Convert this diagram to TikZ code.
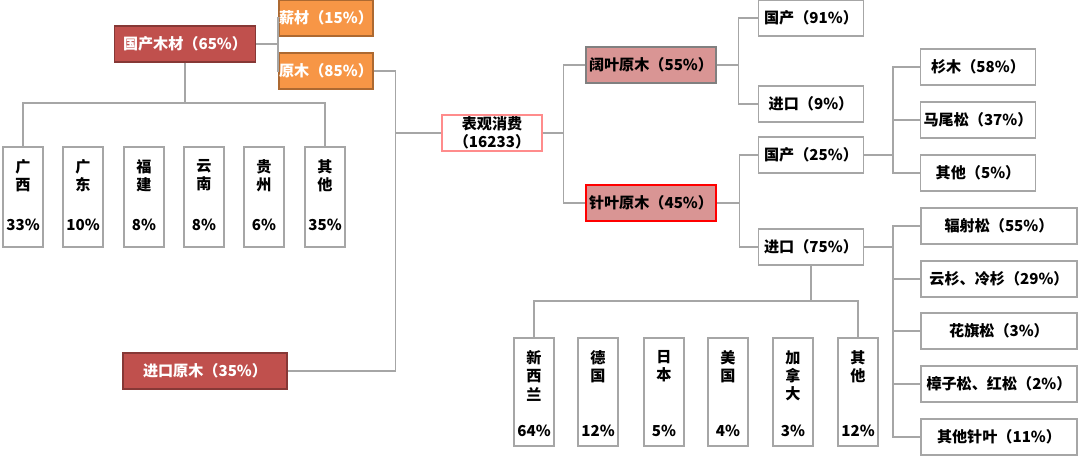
\documentclass[tikz,border=0pt]{standalone}
\usepackage{fontspec}
\setmainfont{Noto Sans CJK SC}
\usetikzlibrary{positioning}
\definecolor{darkred}{HTML}{C0504D}
\definecolor{orangebox}{HTML}{F79646}
\definecolor{pinkbox}{HTML}{D99594}
\definecolor{linegray}{HTML}{A6A6A6}
\tikzset{
  base/.style={draw=linegray, line width=0.8pt, inner sep=0pt, font=\fontsize{8.6}{10.5}\selectfont\bfseries},
  hbox/.style={base, minimum height=0.72cm},
  redbox/.style={hbox, fill=darkred, draw=darkred!70!black, text=white},
  orbox/.style={hbox, fill=orangebox, draw=orangebox!70!black, text=white},
  vbox/.style={base, minimum width=0.8cm, minimum height=2cm},
  link/.style={draw=linegray, line width=0.8pt}
}
\begin{document}
\begin{tikzpicture}[x=0.02cm, y=-0.02cm]
\useasboundingbox (0,0) rectangle (1080,456);

% domestic timber side
\node [redbox, minimum width=2.82cm] (gc) at (185,44) {国产木材（65\%）};
\node [orbox, minimum width=1.88cm] (xc) at (326,18) {薪材（15\%）};
\node [orbox, minimum width=1.88cm] (ym) at (326,71) {原木（85\%）};
\node [redbox, minimum width=3.28cm] (jk) at (205,371) {进口原木（35\%）};
\node [base, draw=red!45, minimum width=2cm, minimum height=0.72cm, align=center] (bg) at (492,133) {表观消费\\（16233）};

\foreach \x/\n/\t/\p in {23/gx/{广\\西}/33, 83/gd/{广\\东}/10, 144/fj/{福\\建}/8,
    204/yn/{云\\南}/8, 264/gz/{贵\\州}/6, 325/qt/{其\\他}/35} {
  \node [vbox] (\n) at (\x,197) {};
  \node [base, draw=none, align=center, below=7pt of \n.north] (\n-t) {\t};
  \node [base, draw=none, above=9pt of \n.south] (\n-p) {\p\%};
}
\path (gc.south |- 0,103) coordinate (pbus);
\draw [link] (gc.south) -- (pbus);
\draw [link] (gx.north) |- (pbus) -| (qt.north);

\draw [link] (gc.east) -- ++(22,0) |- (xc.west);
\draw [link] (gc.east) ++(22,0) |- (ym.west);
\draw [link] (ym.east) -- ++(22,0) |- (jk.east);
\draw [link] (ym.east) ++(22,0) |- (bg.west);

% log types
\node [hbox, fill=pinkbox, draw=gray, minimum width=2.6cm] (ky) at (651,65) {阔叶原木（55\%）};
\node [hbox, fill=pinkbox, draw=red, line width=1.6pt, minimum width=2.6cm] (zy) at (651,203) {针叶原木（45\%）};
\draw [link] (bg.east) -- ++(21,0) |- (ky.west);
\draw [link] (bg.east) ++(21,0) |- (zy.west);

\node [hbox, minimum width=2.1cm] (kg) at (811,18) {国产（91\%）};
\node [hbox, minimum width=2.1cm] (kj) at (811,104) {进口（9\%）};
\node [hbox, minimum width=2.1cm] (zg) at (811,155) {国产（25\%）};
\node [hbox, minimum width=2.1cm] (zj) at (811,247) {进口（75\%）};
\draw [link] (ky.east) -- ++(22,0) |- (kg.west);
\draw [link] (ky.east) ++(22,0) |- (kj.west);
\draw [link] (zy.east) -- ++(22,0) |- (zg.west);
\draw [link] (zy.east) ++(22,0) |- (zj.west);

% domestic softwood species
\foreach \y/\n/\t in {67/sm/杉木（58\%）, 120/mw/马尾松（37\%）, 173/qo/其他（5\%）} {
  \node [hbox, minimum width=2.3cm] (\n) at (978,\y) {\t};
  \draw [link] (zg.east) -- ++(29,0) |- (\n.west);
}
% imported softwood species
\foreach \y/\n/\t in {226/fs/辐射松（55\%）, 279/ys/云杉、冷杉（29\%）, 331/hq/花旗松（3\%）,
    384/zz/樟子松、红松（2\%）, 437/qz/其他针叶（11\%）} {
  \node [hbox, minimum width=3.12cm] (\n) at (999,\y) {\t};
  \draw [link] (zj.east) -- ++(29,0) |- (\n.west);
}

% import origins
\foreach \x/\n/\t/\p in {534/xx/{新\\西\\兰}/64, 598/dg/{德\\国}/12, 664/rb/{日\\本}/5,
    728/mg/{美\\国}/4, 793/jn/{加\\拿\\大}/3, 858/qc/{其\\他}/12} {
  \node [vbox, minimum height=2.16cm] (\n) at (\x,392) {};
  \node [base, draw=none, align=center, below=7pt of \n.north] (\n-t) {\t};
  \node [base, draw=none, above=5pt of \n.south] (\n-p) {\p\%};
}
\path (zj.south |- 0,301) coordinate (cbus);
\draw [link] (zj.south) -- (cbus);
\draw [link] (xx.north) |- (cbus) -| (qc.north);
\end{tikzpicture}
\end{document}
